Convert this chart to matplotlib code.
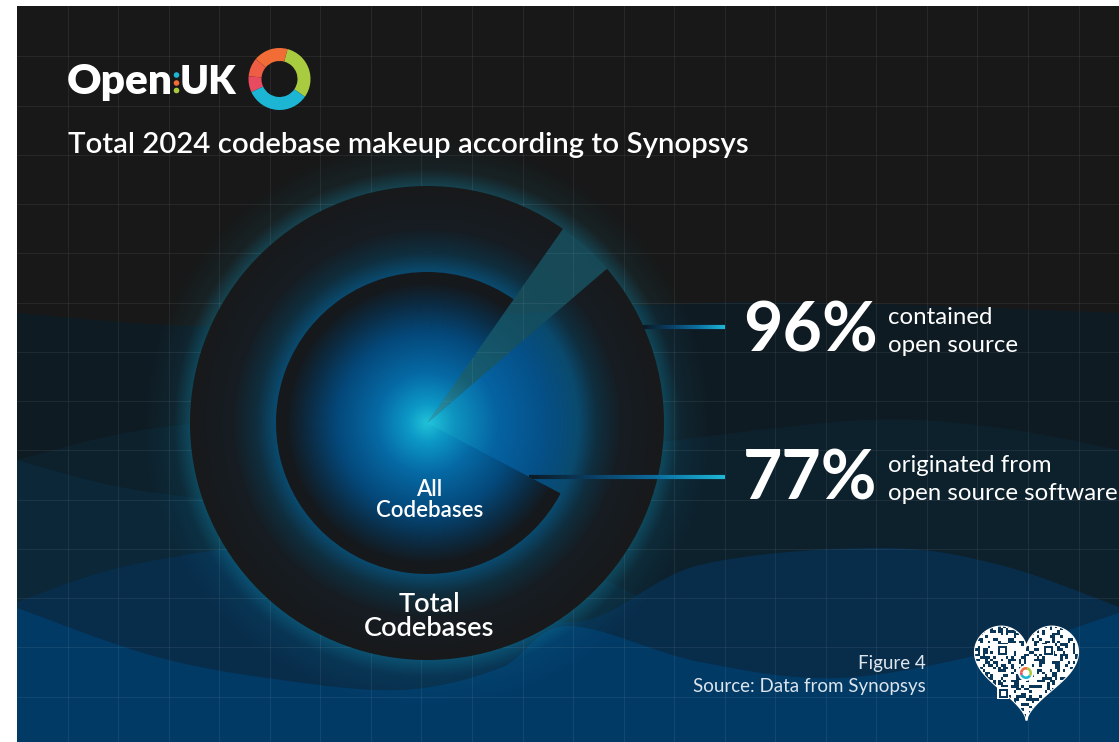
import numpy as np
import matplotlib
matplotlib.use("Agg")
import matplotlib.pyplot as plt
from matplotlib.colors import LinearSegmentedColormap, to_rgba
from matplotlib.collections import LineCollection
from matplotlib.patches import Polygon, Rectangle, Wedge, Circle

W, H = 1119, 742

# --- data -------------------------------------------------------------
title = "Total 2024 codebase makeup according to Synopsys"
ring_labels = ["Total\nCodebases", "All\nCodebases"]
share_values = [96, 77]
share_texts = ["96%", "77%"]
share_captions = [["contained", "open source"],
                  ["originated from", "open source software"]]
footnote = ["Figure 4", "Source: Data from Synopsys"]

# --- layout -----------------------------------------------------------
CX, CY = 427, 423
R_OUT, R_IN = 237, 151
START = 55          # angle (deg, screen ccw from east) where both rings begin
FONT = "Lato"

fig = plt.figure(figsize=(W / 100, H / 100), dpi=100, facecolor="white")
ax = fig.add_axes([0, 0, 1, 1])


def catmull(points, n=40):
    pts = np.array(points, float)
    pts = np.vstack([pts[0], pts, pts[-1]])
    out = []
    t = np.linspace(0, 1, n, endpoint=False)[:, None]
    for i in range(1, len(pts) - 2):
        p0, p1, p2, p3 = pts[i - 1], pts[i], pts[i + 1], pts[i + 2]
        out.append(0.5 * (2 * p1 + (-p0 + p2) * t
                          + (2 * p0 - 5 * p1 + 4 * p2 - p3) * t ** 2
                          + (-p0 + 3 * p1 - 3 * p2 + p3) * t ** 3))
    out.append(pts[-2][None])
    return np.vstack(out)


def band(points, color, z):
    edge = catmull(points)
    poly = np.vstack([edge, [[W, H], [0, H]]])
    ax.add_patch(Polygon(poly, closed=True, facecolor=color, edgecolor="none", zorder=z))


def radial(cx, cy, r, stops, n=700):
    xs = np.linspace(cx - r, cx + r, n)
    X, Y = np.meshgrid(xs, np.linspace(cy - r, cy + r, n))
    d = np.clip(np.hypot(X - cx, Y - cy) / r, 0, 1)
    pos = [s[0] for s in stops]
    rgba = np.array([to_rgba(s[1], s[2] if len(s) > 2 else 1.0) for s in stops])
    img = np.dstack([np.interp(d, pos, rgba[:, k]) for k in range(4)])
    return img, (cx - r, cx + r, cy + r, cy - r)


# background panel
ax.add_patch(Rectangle((17, 6), W - 17, H - 6, facecolor="#181818", edgecolor="none", zorder=0))

# layered waves
band([(0, 312), (17, 313), (200, 326), (420, 320), (745, 302), (1119, 313)], "#0f1b23", 1)
band([(0, 466), (17, 460), (110, 436), (197, 423), (290, 416), (420, 425), (567, 452),
      (660, 442), (867, 420), (1000, 428), (1119, 450)], "#0d212d", 2)
band([(0, 452), (17, 460), (110, 485), (197, 498), (290, 508), (420, 520), (560, 560),
      (700, 620), (900, 650), (1119, 660)], "#0b2738", 3)
band([(0, 608), (17, 602), (110, 570), (217, 550), (300, 542), (420, 552), (567, 622),
      (700, 565), (880, 548), (1000, 565), (1119, 607)], "#082d4b", 4)
band([(0, 602), (17, 608), (150, 655), (267, 678), (400, 690), (500, 668), (567, 626),
      (700, 662), (840, 678), (1000, 650), (1119, 613)], "#023a66", 5)

# glow around the rings
img, ext = radial(CX, CY, 285, [(0, "#1291b5", 0.36), (R_OUT / 285, "#1291b5", 0.36),
                                (0.89, "#1291b5", 0.09), (1.0, "#1291b5", 0.0)])
ax.imshow(img, extent=ext, origin="upper", interpolation="bilinear", zorder=6)

# grid
for gx in np.arange(17 + 50.55, W, 50.55):
    ax.plot([gx, gx], [6, H], color="white", alpha=0.065, lw=0.8, zorder=7)
for gy in np.arange(7 + 49.25, H, 49.25):
    ax.plot([17, W], [gy, gy], color="white", alpha=0.065, lw=0.8, zorder=7)

# y axis is inverted, so screen angles are negated for the pie
outer, _ = ax.pie([share_values[0], 100 - share_values[0]], center=(CX, CY), radius=R_OUT,
                  startangle=-START, counterclock=False, colors=["none", "none"],
                  wedgeprops=dict(linewidth=0, zorder=8), frame=True)
inner, _ = ax.pie([share_values[1], 100 - share_values[1]], center=(CX, CY), radius=R_IN,
                  startangle=-START, counterclock=False, colors=["none", "none"],
                  wedgeprops=dict(linewidth=0, zorder=12), frame=True)

img, ext = radial(CX, CY, R_OUT, [(0, "#22c6dc"), (0.12, "#0e93bf"), (0.3, "#0563a2"),
                                  (0.5, "#055088"), (0.64, "#0a4a6e"), (0.72, "#0f2e3e"),
                                  (0.82, "#161d23"), (1.0, "#18191b")])
im = ax.imshow(img, extent=ext, origin="upper", interpolation="bilinear", zorder=8)
im.set_clip_path(outer[0])

# translucent beam for the remaining share of the outer ring
img, ext = radial(CX, CY, R_OUT, [(0, "#3fd0e6", 0.7), (0.25, "#2aa8c8", 0.26),
                                  (0.6, "#2f8ca8", 0.12), (1.0, "#2f8ca8", 0.08)])
im = ax.imshow(img, extent=ext, origin="upper", interpolation="bilinear", zorder=9)
im.set_clip_path(outer[1])

img, ext = radial(CX, CY, R_IN, [(0, "#21c2d8"), (0.13, "#0c98c6"), (0.33, "#066aa5"),
                                 (0.6, "#04487a"), (0.8, "#0c2a40"), (0.93, "#15191d"),
                                 (1.0, "#17191b")])
im = ax.imshow(img, extent=ext, origin="upper", interpolation="bilinear", zorder=12)
im.set_clip_path(inner[0])

# connector lines
cmap_line = LinearSegmentedColormap.from_list("ln", ["#0c1a24", "#0a3f66", "#0b6fa0", "#1db6d6"])
x_end = 725
y1 = 326.5
x1 = CX + np.sqrt(R_OUT ** 2 - (CY - y1) ** 2)
y2 = 477
a2 = np.radians(START + 3.6 * share_values[1] - 360)
x2 = CX + (CY - y2) / np.tan(a2)
for xs, y in [(x1, y1), (x2, y2)]:
    px = np.linspace(xs, x_end, 120)
    segs = [[(px[i], y), (px[i + 1], y)] for i in range(len(px) - 1)]
    lc = LineCollection(segs, colors=cmap_line(np.linspace(0, 1, len(segs))), linewidths=3,
                        zorder=10, capstyle="butt")
    ax.add_collection(lc)

# ring labels
for lab, (y_top, y_bot), fs in zip(ring_labels, [(612, 636), (496, 517)], [19.6, 16]):
    l1, l2 = lab.split("\n")
    ax.text(429.5, y_top, l1, color="white", fontsize=fs, family=FONT, weight="semibold",
            ha="center", va="baseline", zorder=15)
    ax.text(429.5, y_bot, l2, color="white", fontsize=fs, family=FONT, weight="semibold",
            ha="center", va="baseline", zorder=15)

# big share figures with captions
for txt, cap, yb in zip(share_texts, share_captions, [352, 500]):
    ax.text(743, yb, txt, color="white", fontsize=49, family=FONT, weight="bold",
            ha="left", va="baseline", zorder=15)
    ax.text(888, yb - 28, cap[0], color="white", fontsize=17.3, family=FONT,
            ha="left", va="baseline", zorder=15)
    ax.text(888, yb, cap[1], color="white", fontsize=17.3, family=FONT,
            ha="left", va="baseline", zorder=15)

# title
ax.text(68, 153, title, color="white", fontsize=21.2, family=FONT, weight="semibold",
        ha="left", va="baseline", zorder=15)

# footnote
ax.text(926, 669, footnote[0], color="#dce4ec", fontsize=13.5, family=FONT,
        ha="right", va="baseline", zorder=15)
ax.text(926, 692, footnote[1], color="#dce4ec", fontsize=13.5, family=FONT,
        ha="right", va="baseline", zorder=15)


def ring(cx, cy, r, width, segs, z):
    for a1, a2, col in segs:
        ax.add_patch(Wedge((cx, cy), r, -a2, -a1, width=width, facecolor=col,
                           edgecolor="none", zorder=z))


# logo
ax.text(67, 94, "Open", color="white", fontsize=30.5, family=FONT, weight="heavy",
        ha="left", va="baseline", zorder=15)
ax.text(180, 94, "UK", color="white", fontsize=28, family=FONT, weight="heavy",
        ha="left", va="baseline", zorder=15)
for yy, col in [(75, "#1cb5d3"), (83, "#f26d35"), (90.5, "#a9cb3f")]:
    ax.add_patch(Circle((176.5, yy), 2.8, facecolor=col, edgecolor="none", zorder=15))
logo_segs = [(-35, 75, "#a9cb3f"), (75, 140, "#f26d35"), (140, 175, "#ee5d44"),
             (175, 205, "#e84a5f"), (205, 325, "#1cb5d3")]
ring(279.5, 79, 31, 13, logo_segs, 15)

# heart-shaped QR badge
t = np.linspace(0, 2 * np.pi, 400)
hx = 16 * np.sin(t) ** 3
hy = 13 * np.cos(t) - 5 * np.cos(2 * t) - 2 * np.cos(3 * t) - np.cos(4 * t)
sc = 3.22
heart = Polygon(np.column_stack([1026.5 + hx * sc, 627 + (11.8 - hy) * sc]), closed=True,
                facecolor="white", edgecolor="white", lw=1.5, zorder=14)
ax.add_patch(heart)
nx, ny = 40, 38
ii, jj = np.meshgrid(np.arange(nx), np.arange(ny))
bits = ((ii * 73856093) ^ (jj * 19349663) ^ (ii * jj * 83492791)) % 9 < 3
qr = np.ones((ny, nx, 4))
qr[bits] = to_rgba("#0a3658")
im = ax.imshow(qr, extent=(975, 1078, 724, 625), origin="upper", interpolation="nearest",
               zorder=14.5)
im.set_clip_path(heart)
for fx, fy in [(1002, 650), (1048, 650), (1003, 693)]:
    ax.add_patch(Rectangle((fx - 6, fy - 6), 12, 12, facecolor="white", zorder=14.6))
    ax.add_patch(Rectangle((fx - 4.5, fy - 4.5), 9, 9, facecolor="#0a3658", zorder=14.7))
    ax.add_patch(Rectangle((fx - 2.5, fy - 2.5), 5, 5, facecolor="white", zorder=14.8))
ax.add_patch(Circle((1026, 673), 8, facecolor="white", zorder=14.6))
ring(1026, 673, 6, 2.6, logo_segs, 14.7)

# white margins
ax.add_patch(Rectangle((0, 0), 17, H, facecolor="white", edgecolor="none", zorder=20))
ax.add_patch(Rectangle((0, 0), W, 6, facecolor="white", edgecolor="none", zorder=20))

ax.set_xlim(0, W)
ax.set_ylim(H, 0)
ax.set_aspect("auto")
ax.axis("off")
fig.savefig("out.png", dpi=100, facecolor="white")
